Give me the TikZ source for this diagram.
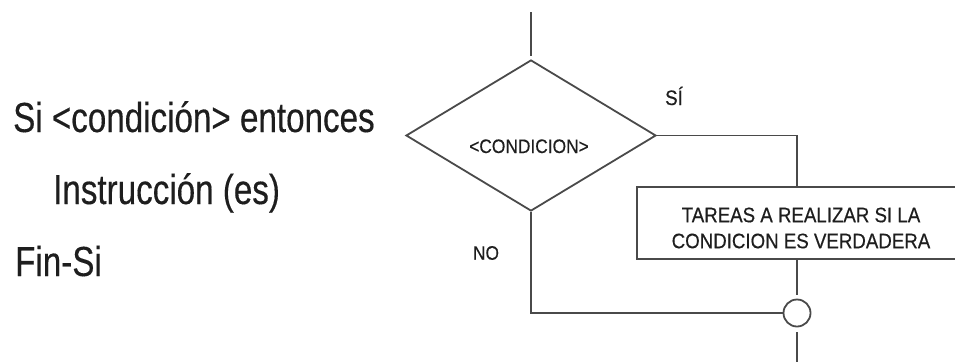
\documentclass[tikz,border=0pt]{standalone}
\usepackage{fontspec}
\setmainfont{Liberation Sans}
\newfontfamily\leftfam[FakeStretch=0.79,FakeBold=0.3]{Liberation Sans}
\newfontfamily\smallfam[FakeStretch=0.89,FakeBold=0.4]{Liberation Sans}
\usetikzlibrary{shapes.geometric}
\definecolor{linegray}{HTML}{4A4A4A}
\definecolor{textgray}{HTML}{1E1E1E}
\begin{document}
\begin{tikzpicture}[x=1pt,y=-1pt,
  line/.style={draw=linegray,line width=1.8pt},
  bigtext/.style={font=\leftfam\fontsize{42}{50}\selectfont,text=textgray,inner sep=0pt,anchor=base west},
  smalltext/.style={font=\smallfam\fontsize{20}{26}\selectfont,text=textgray,inner sep=0pt},
  decision/.style={diamond,line,minimum width=250pt,minimum height=151pt,aspect=1.656,inner sep=0pt},
  taskbox/.style={rectangle,line,minimum width=380pt,minimum height=72pt,inner sep=0pt},
  joinpt/.style={circle,line,minimum size=27pt,inner sep=0pt}]
\useasboundingbox (0,0) rectangle (955,362);
\clip (0,0) rectangle (955,362);
\fill[white] (0,0) rectangle (955,362);
% pseudo-code
\node[bigtext] (l1) at (13,132) {Si <condición> entonces};
\node[bigtext] (l2) at (53,204) {Instrucción (es)};
\node[bigtext] (l3) at (15,276) {Fin-Si};
% flowchart
\coordinate (start) at (531,12);
\node[decision] (dia) at (531,135.5) {};
\node[smalltext,font=\smallfam\fontsize{19.5}{24}\selectfont,anchor=base] (cond) at (529,153) {<CONDICION>};
\node[taskbox] (box) at (827,223) {};
\node[smalltext,align=center,font=\smallfam\fontsize{21}{26}\selectfont] (boxtext) at (801,228) {TAREAS A REALIZAR SI LA\\CONDICION ES VERDADERA};
\node[joinpt] (join) at (797,313) {};
\coordinate (end) at (797,362);
\node[smalltext,font=\smallfam\fontsize{21}{26}\selectfont,anchor=base] (si) at (674,105) {SÍ};
\node[smalltext,font=\smallfam\fontsize{19.5}{24}\selectfont] (no) at (486,253) {NO};
% connectors
\draw[line,shorten >=3pt] (start) -- (dia.north);
\draw[line] (dia.east) -| (join |- box.north);
\draw[line,shorten >=4pt] (join |- box.south) -- (join.north);
\draw[line] (dia.south) |- (join.west);
\draw[line,shorten <=5pt] (join.south) -- (end);
\end{tikzpicture}
\end{document}
